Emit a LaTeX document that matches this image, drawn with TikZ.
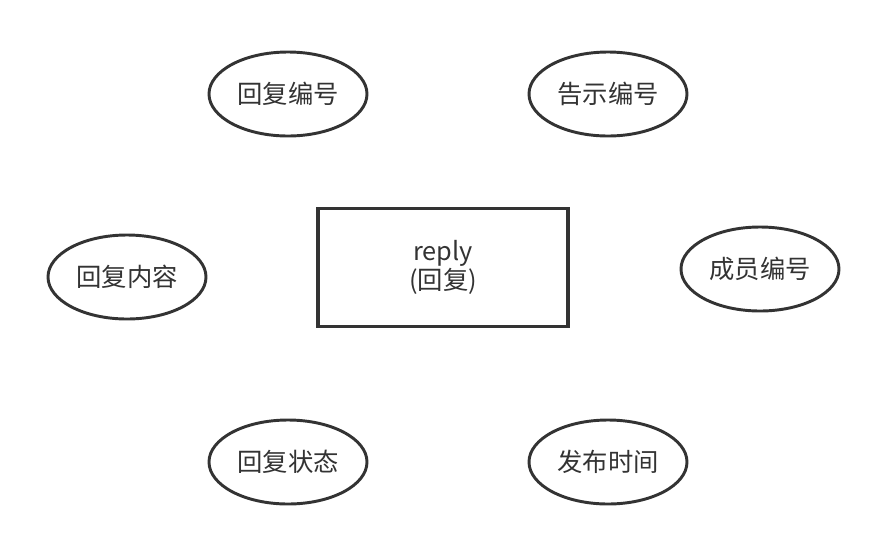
\documentclass[tikz,border=0pt]{standalone}
\usepackage{fontspec}
\setmainfont{Noto Sans CJK SC}
\usetikzlibrary{shapes.geometric}

\definecolor{ink}{HTML}{333333}
\tikzset{
  attr/.style={ellipse, draw=ink, line width=2.2pt, text=ink,
    minimum width=118.5pt, minimum height=63pt, inner sep=0pt,
    font=\fontsize{19}{23}\selectfont},
  entity/.style={rectangle, draw=ink, line width=2.4pt, text=ink,
    minimum width=187.5pt, minimum height=88pt, align=center,
    font=\fontsize{19}{21.5}\selectfont}
}

\begin{document}
\begin{tikzpicture}[x=0.75pt, y=-0.75pt]
    \useasboundingbox (0,0) rectangle (886,551);
    \node[entity] (reply) at (443,267.5) {reply\\(回复)};
    \node[attr] (rid) at (288,94) {回复编号};
    \node[attr] (nid) at (608,94) {告示编号};
    \node[attr] (content) at (127,277) {回复内容};
    \node[attr] (mid) at (760,269) {成员编号};
    \node[attr] (state) at (288,462) {回复状态};
    \node[attr] (time) at (608,462) {发布时间};
\end{tikzpicture}
\end{document}
